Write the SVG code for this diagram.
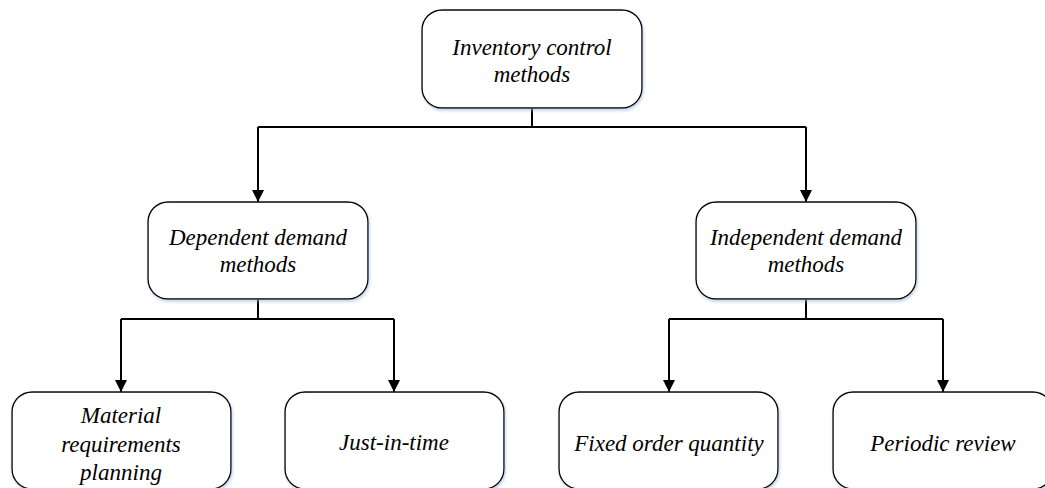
<svg xmlns="http://www.w3.org/2000/svg" width="1045" height="488" viewBox="0 0 1045 488">
<style>
.box{fill:#fff;stroke:#000;stroke-width:1.4;filter:url(#sh)}
.t{font-family:'Liberation Serif','Times New Roman',serif;font-style:italic;font-size:23px;fill:#000;text-anchor:middle}
.c{fill:none;stroke:#000;stroke-width:2}
</style>
<defs>
<filter id="sh" x="-10%" y="-10%" width="120%" height="130%">
<feDropShadow dx="1" dy="2" stdDeviation="1.5" flood-color="#9db4d6" flood-opacity="0.6"/>
</filter>
<marker id="ah" markerWidth="12" markerHeight="12" viewBox="0 0 12 12" refX="12" refY="6" orient="auto" markerUnits="userSpaceOnUse">
<path d="M0,0 L12,6 L0,12 Z" fill="#000"/>
</marker>
</defs>
<rect width="1045" height="488" fill="#fff"/>
<g id="connectors">
<path class="c" d="M532,108 V127"/>
<path class="c" d="M258,127 H806"/>
<path class="c" d="M258,127 V202" marker-end="url(#ah)"/>
<path class="c" d="M806,127 V202" marker-end="url(#ah)"/>
<path class="c" d="M258,299 V319"/>
<path class="c" d="M121,319 H394"/>
<path class="c" d="M121,319 V392" marker-end="url(#ah)"/>
<path class="c" d="M394,319 V392" marker-end="url(#ah)"/>
<path class="c" d="M806,299 V319"/>
<path class="c" d="M669,319 H943"/>
<path class="c" d="M669,319 V392" marker-end="url(#ah)"/>
<path class="c" d="M943,319 V392" marker-end="url(#ah)"/>
</g>
<g id="n-root">
<rect class="box" x="422" y="10" width="220" height="98" rx="20"/>
<text class="t" x="532" y="55">Inventory control</text>
<text class="t" x="532" y="82">methods</text>
</g>
<g id="n-dep">
<rect class="box" x="148" y="202" width="220" height="97" rx="20"/>
<text class="t" x="258" y="245">Dependent demand</text>
<text class="t" x="258" y="272">methods</text>
</g>
<g id="n-indep">
<rect class="box" x="696" y="202" width="220" height="97" rx="20"/>
<text class="t" x="806" y="245">Independent demand</text>
<text class="t" x="806" y="272">methods</text>
</g>
<g id="n-mrp">
<rect class="box" x="12" y="392" width="219" height="97" rx="20"/>
<text class="t" x="121" y="423">Material</text>
<text class="t" x="121" y="452">requirements</text>
<text class="t" x="121" y="480">planning</text>
</g>
<g id="n-jit">
<rect class="box" x="285" y="392" width="219" height="97" rx="20"/>
<text class="t" x="394" y="450">Just-in-time</text>
</g>
<g id="n-foq">
<rect class="box" x="559" y="392" width="219" height="97" rx="20"/>
<text class="t" x="669" y="451">Fixed order quantity</text>
</g>
<g id="n-pr">
<rect class="box" x="833" y="392" width="220" height="97" rx="20"/>
<text class="t" x="943" y="451">Periodic review</text>
</g>
</svg>
